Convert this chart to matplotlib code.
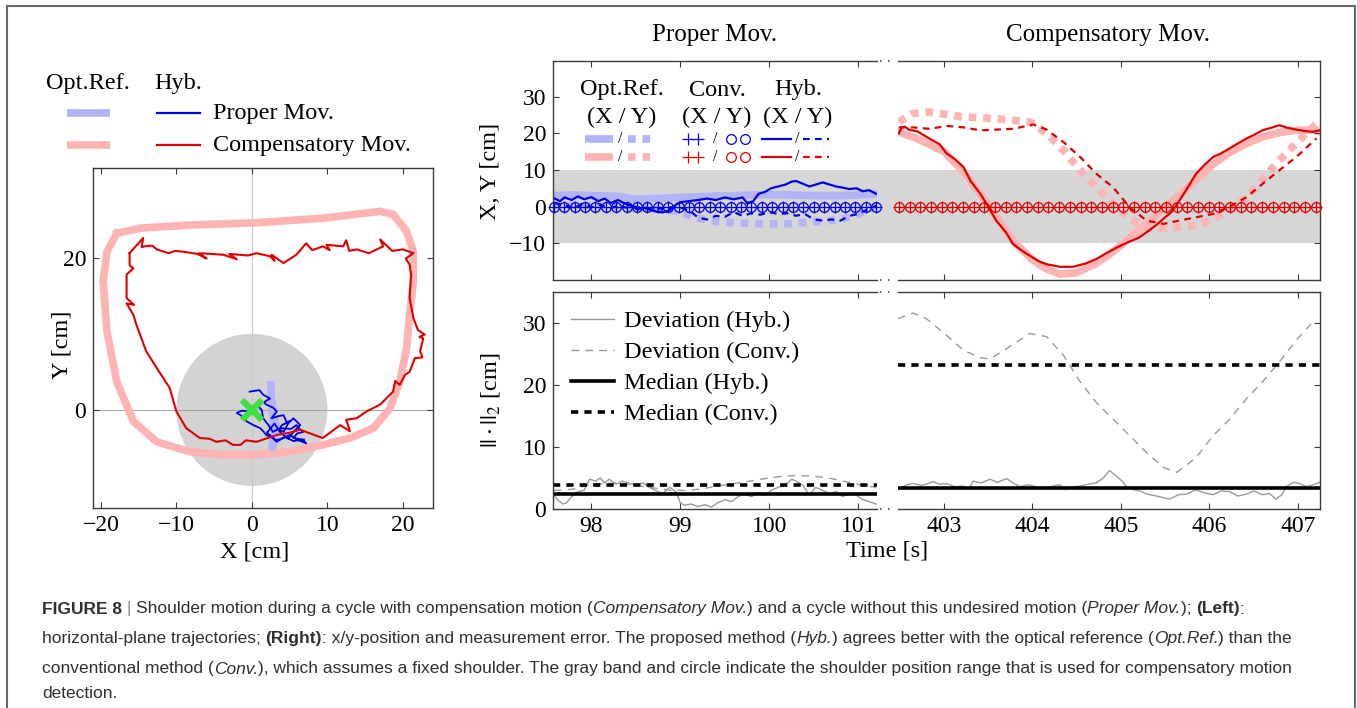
import numpy as np
import matplotlib
matplotlib.use('Agg')
import matplotlib.pyplot as plt
from matplotlib.lines import Line2D
from matplotlib.patches import Rectangle, Circle
import matplotlib.transforms as mtrans
from matplotlib import font_manager as fm

# ---------------- data ----------------
# Left: horizontal-plane trajectories [cm]
comp_ref_x = [-17.9, -14.8, -8.2, 0.6, 9.4, 17.0, 18.7, 20.5, 21.4, 21.4, 20.9, 20.5, 19.6, 18.3, 16.1,
              13.0, 9.4, 5.0, 0.6, -3.8, -8.2, -12.6, -15.7, -17.9, -19.2, -19.7, -19.2, -17.9]
comp_ref_y = [23.2, 23.9, 24.3, 24.6, 25.2, 26.1, 25.7, 23.5, 20.8, 16.9, 12.5, 8.1, 3.7, 0.2, -2.4,
              -3.7, -4.6, -5.5, -5.9, -5.9, -5.5, -4.2, -1.5, 3.7, 10.3, 16.9, 20.8, 23.2]
comp_hyb_x = [-16.2, -14.4, -14.6, -14.2, -13.2, -12.6, -11.0, -10.2, -9.1, -7.2, -6.0, -7.0, -3.8, -2.0,
              -3.0, -0.5, 0.6, 2.4, 3.0, 2.6, 4.2, 5.9, 7.2, 8.0, 9.4, 10.3, 9.9, 12.1, 12.5, 12.9,
              13.9, 15.5, 17.4, 17.0, 18.6, 20.0, 21.4, 20.4, 20.9, 21.1, 20.9, 21.4, 22.0, 22.9, 22.2,
              22.7, 22.3, 22.6, 21.6, 20.9, 20.3, 19.6, 19.0, 18.7, 17.0, 15.2, 13.9, 12.5, 13.0, 11.7,
              9.4, 8.0, 6.4, 5.0, 3.3, 0.6, -0.8, -1.5, -2.5, -3.5, -4.7, -5.6, -6.9, -8.7, -10.0,
              -10.9, -12.6, -14.0, -15.3, -15.7, -16.6, -15.6, -16.6, -16.6, -15.7, -16.2, -16.2]
comp_hyb_y = [20.6, 22.6, 21.4, 21.5, 21.6, 21.1, 20.6, 20.9, 20.8, 20.5, 19.9, 20.6, 20.4, 19.8,
              20.5, 20.3, 20.6, 20.2, 19.6, 20.4, 19.3, 20.4, 21.9, 21.0, 21.5, 21.0, 21.7, 21.5, 22.3,
              20.9, 21.1, 20.6, 21.5, 22.4, 20.9, 21.1, 20.6, 19.9, 19.1, 17.8, 14.7, 12.1, 10.5, 9.9,
              9.6, 9.4, 7.7, 6.9, 6.8, 5.0, 4.6, 3.3, 3.8, 2.4, 0.7, -0.2, -1.1, -1.3, -2.8, -2.0,
              -3.7, -3.2, -2.6, -3.0, -3.3, -4.2, -4.0, -4.6, -4.6, -4.0, -4.2, -3.8, -3.7, -2.4, -0.2,
              2.9, 5.5, 7.7, 11.2, 12.5, 14.0, 13.8, 14.7, 17.8, 18.6, 19.0, 20.6]
prop_ref_x = [2.5, 2.6, 2.8, 3.2, 3.0, 2.7, 3.0, 2.8, 2.6]
prop_ref_y = [3.3, 1.5, 0.0, -2.0, -3.5, -5.0, -3.0, -1.0, 1.0]
prop_hyb_x = [-0.3, 1.0, 1.5, 2.4, 1.6, 1.9, 2.8, 3.3, 2.6, 3.6, 4.2, 4.6, 5.0, 4.0, 3.7, 5.2, 5.9, 6.3,
              6.8, 6.0, 5.5, 6.7, 7.2, 6.2, 5.0, 4.3, 3.3, 2.6, 1.9, 1.5, 1.1, 0.2, -0.7, -1.2, -2.0,
              -1.3, -0.7, 0.0, 0.6, 1.3, 1.5, 2.2, 2.8, 3.5, 4.2, 4.8, 5.5, 6.0, 6.4, 5.6, 4.8, 3.8,
              3.0, 2.0, 3.2, 4.5, 5.5, 6.9]
prop_hyb_y = [2.4, 2.6, 2.0, 1.5, 1.0, 0.7, 0.3, -0.2, -1.1, -0.8, -0.7, -1.6, -1.5, -2.0, -2.4, -2.5,
              -2.0, -2.5, -2.9, -3.1, -3.7, -3.9, -4.4, -4.0, -3.3, -3.6, -4.2, -3.6, -3.3, -2.8, -2.4,
              -2.0, -1.5, -0.9, -0.4, -0.1, -0.2, 0.4, 0.7, 0.0, -1.1, -2.0, -2.9, -2.5, -2.9, -1.8,
              -1.1, -1.6, -2.0, -2.8, -3.8, -3.0, -1.8, -3.0, -4.0, -3.6, -4.1, -3.9]

# Right top: Proper movement, time [s] and X/Y [cm]
p_ref_t = [97.58, 97.8, 98.0, 98.3, 98.5, 98.7, 99.0, 99.3, 99.6, 99.9, 100.2, 100.5, 100.8, 101.0, 101.2]
p_ref_x = [3.0, 3.2, 3.0, 2.8, 2.0, 2.2, 2.5, 2.8, 3.0, 3.2, 3.2, 3.0, 3.0, 3.2, 3.5]
p_refy_t = [97.58, 97.9, 98.2, 98.5, 98.8, 99.0, 99.2, 99.4, 99.6, 99.8, 100.0, 100.2, 100.4, 100.6, 100.8, 101.0, 101.2]
p_ref_y = [0.5, 0.3, 0.0, -0.2, -0.5, -1.5, -3.2, -4.0, -4.4, -4.6, -4.7, -4.7, -4.3, -4.0, -3.5, -2.0, 0.3]
p_hyb_t = [97.58, 97.65, 97.7, 97.78, 97.85, 97.92, 98.0, 98.08, 98.15, 98.22, 98.3, 98.38, 98.45, 98.52,
           98.6, 98.7, 98.8, 98.88, 98.95, 99.0, 99.1, 99.2, 99.3, 99.4, 99.5, 99.6, 99.7, 99.75, 99.82,
           99.88, 99.95, 100.02, 100.1, 100.18, 100.25, 100.3, 100.38, 100.45, 100.52, 100.6, 100.68,
           100.75, 100.82, 100.9, 100.98, 101.05, 101.12, 101.2]
p_hyb_x = [2.3, 1.5, 2.5, 1.8, 2.8, 2.0, 2.6, 1.5, 2.2, 1.0, 1.8, 0.8, 0.2, -0.8, -0.3, -1.2, -1.6, -1.0,
           0.5, 1.2, 1.5, 1.8, 2.2, 1.8, 2.5, 2.0, 2.5, 1.0, 1.5, 3.5, 4.0, 5.0, 5.5, 6.0, 6.8, 7.0, 6.2,
           5.5, 6.0, 6.6, 6.0, 5.5, 5.2, 4.8, 5.0, 4.2, 4.5, 3.5]
p_hyby_t = [97.58, 97.7, 97.8, 97.9, 98.0, 98.1, 98.2, 98.3, 98.4, 98.5, 98.6, 98.7, 98.8, 98.9, 99.0,
            99.1, 99.2, 99.3, 99.4, 99.5, 99.6, 99.7, 99.8, 99.9, 100.0, 100.1, 100.2, 100.3, 100.4,
            100.5, 100.6, 100.7, 100.8, 100.9, 101.0, 101.1, 101.2]
p_hyb_y = [1.0, 0.5, -0.5, 0.8, -0.2, 0.6, -0.5, 0.2, -0.3, 0.0, -0.5, -0.3, -0.6, -0.2, -0.3,
           -1.0, -3.0, -3.5, -2.5, -2.8, -1.5, -2.5, -1.8, -2.2, -1.5, -2.0, -1.8, -2.5, -2.0,
           -3.5, -3.8, -3.5, -3.8, -2.5, -2.0, -0.8, 0.2]
p_conv_t = np.linspace(97.58, 101.2, 32)
p_conv_x = np.zeros(32)
p_conv_y = np.zeros(32)

# Right top: Compensatory movement
c_ref_t = [402.49, 402.7, 403.0, 403.2, 403.41, 403.6, 403.78, 404.0, 404.16, 404.31, 404.5, 404.72,
           404.91, 405.1, 405.29, 405.48, 405.66, 405.85, 406.04, 406.23, 406.42, 406.6, 406.79,
           406.98, 407.17, 407.25]
c_ref_x = [20.4, 18.5, 15.0, 10.0, 3.5, -3.0, -9.3, -14.5, -17.0, -18.4, -18.0, -15.5, -12.3, -8.5,
           -4.7, -0.5, 3.0, 7.5, 11.5, 14.8, 17.2, 19.0, 20.2, 20.8, 20.8, 20.5]
c_hyb_t = [402.49, 402.52, 402.56, 402.6, 402.7, 402.84, 402.95, 403.03, 403.12, 403.22, 403.3,
           403.41, 403.5, 403.59, 403.7, 403.78, 403.88, 403.97, 404.08, 404.16, 404.31, 404.46,
           404.6, 404.72, 404.85, 404.99, 405.1, 405.2, 405.29, 405.4, 405.48, 405.57, 405.66,
           405.75, 405.85, 405.95, 406.04, 406.13, 406.23, 406.32, 406.42, 406.5, 406.6, 406.7,
           406.79, 406.88, 406.98, 407.08, 407.17, 407.25]
c_hyb_x = [20.0, 21.5, 21.8, 21.0, 20.5, 18.5, 17.0, 14.5, 13.0, 10.8, 7.0, 3.5, 0.0, -3.8, -7.0,
           -10.2, -12.0, -13.4, -15.0, -15.7, -16.4, -16.4, -15.5, -14.3, -12.5, -10.7, -9.5,
           -8.5, -7.0, -5.0, -3.3, -1.5, 1.6, 5.0, 9.0, 11.5, 13.5, 14.5, 15.9, 17.2, 18.6, 19.5,
           20.8, 21.5, 22.2, 21.5, 21.0, 20.6, 20.4, 20.8]
c_refy_t = [402.49, 402.65, 402.84, 403.2, 403.6, 403.97, 404.16, 404.35, 404.54, 404.72, 404.91,
            405.1, 405.29, 405.48, 405.85, 406.04, 406.23, 406.42, 406.6, 406.79, 406.98, 407.21]
c_ref_y = [23.1, 25.4, 25.8, 24.5, 24.0, 23.1, 20.0, 15.3, 9.9, 5.3, 0.8, -3.3, -5.7, -5.9, -5.2,
           -3.5, -1.0, 2.5, 7.5, 12.6, 17.2, 22.6]
c_hyby_t = [402.49, 402.65, 402.84, 403.03, 403.22, 403.41, 403.59, 403.78, 404.01, 404.16, 404.35,
            404.54, 404.72, 404.91, 405.1, 405.29, 405.48, 405.66, 405.85, 406.04, 406.23, 406.42,
            406.6, 406.79, 406.98, 407.21]
c_hyb_y = [21.6, 21.6, 21.2, 22.0, 21.6, 20.8, 21.0, 21.2, 22.4, 21.0, 17.6, 13.5, 9.0, 5.3, -0.2,
           -3.8, -4.7, -3.8, -2.9, -2.0, 0.0, 2.6, 6.2, 9.9, 13.5, 18.6]
c_conv_t = np.linspace(402.49, 407.2, 40)
c_conv_x = np.zeros(40)
c_conv_y = np.zeros(40)

# Right bottom: deviation [cm]
p_devh_t = [97.58, 97.62, 97.68, 97.72, 97.78, 97.85, 97.92, 97.98, 98.05, 98.1, 98.15, 98.2, 98.28,
            98.35, 98.42, 98.5, 98.58, 98.65, 98.72, 98.8, 98.88, 98.95, 99.0, 99.05, 99.12, 99.2,
            99.28, 99.35, 99.42, 99.5, 99.58, 99.65, 99.72, 99.8, 99.88, 99.95, 100.02, 100.1,
            100.18, 100.25, 100.3, 100.38, 100.45, 100.52, 100.6, 100.68, 100.75, 100.82, 100.9,
            100.98, 101.05, 101.12, 101.2]
p_devh = [2.3, 1.5, 0.8, 1.0, 2.0, 2.8, 3.0, 4.8, 4.5, 5.0, 4.2, 4.8, 4.0, 4.5, 4.2, 3.8, 4.2, 3.5,
          3.0, 2.5, 3.5, 2.8, 1.0, 0.6, 0.8, 0.4, 0.7, 0.3, 1.0, 1.5, 1.2, 2.0, 2.4, 2.0, 2.6, 2.2,
          3.0, 3.5, 3.8, 4.8, 4.5, 3.8, 2.2, 3.5, 3.0, 2.5, 2.8, 2.0, 2.5, 2.2, 1.5, 1.2, 0.8]
p_devc_t = [97.58, 97.8, 98.0, 98.3, 98.6, 98.9, 99.1, 99.3, 99.5, 99.7, 99.9, 100.1, 100.3, 100.5,
            100.7, 100.9, 101.05, 101.2]
p_devc = [3.0, 3.2, 4.0, 4.2, 3.6, 3.0, 3.0, 3.4, 3.9, 4.3, 4.8, 5.2, 5.4, 5.3, 4.9, 4.3, 3.8, 3.5]
p_med_h = 2.5
p_med_c = 3.9
c_devh_t = [402.5, 402.58, 402.65, 402.75, 402.88, 402.95, 403.03, 403.12, 403.22, 403.28, 403.33,
            403.42, 403.52, 403.6, 403.71, 403.78, 403.86, 403.95, 404.09, 404.2, 404.31, 404.38,
            404.46, 404.54, 404.63, 404.72, 404.8, 404.87, 404.95, 405.02, 405.06, 405.14, 405.22,
            405.29, 405.4, 405.55, 405.65, 405.74, 405.85, 405.95, 406.04, 406.13, 406.23, 406.32,
            406.42, 406.5, 406.6, 406.68, 406.75, 406.82, 406.87, 406.95, 407.02, 407.1, 407.17, 407.25]
c_devh = [3.4, 3.9, 4.1, 3.8, 4.4, 4.0, 4.1, 3.6, 3.7, 3.2, 4.5, 4.2, 4.8, 4.3, 4.9, 4.2, 3.6, 3.9,
          3.4, 3.6, 3.9, 3.1, 3.6, 3.7, 4.0, 4.2, 5.0, 6.2, 5.3, 4.4, 3.6, 3.1, 2.9, 2.4, 2.1, 1.6,
          2.3, 2.4, 3.1, 2.6, 2.3, 2.9, 2.8, 2.1, 2.4, 2.9, 2.3, 2.5, 1.6, 2.3, 3.6, 4.3, 4.1, 3.6,
          3.9, 4.3]
c_devc_t = [402.48, 402.65, 402.8, 403.03, 403.22, 403.41, 403.52, 403.71, 403.97, 404.16, 404.35,
            404.54, 404.72, 404.91, 405.1, 405.29, 405.48, 405.63, 405.85, 406.04, 406.23, 406.42,
            406.6, 406.79, 406.98, 407.19]
c_devc = [30.7, 31.6, 30.7, 28.0, 25.6, 24.4, 24.2, 25.9, 28.3, 27.8, 24.8, 20.5, 17.2, 14.5, 11.8,
          9.1, 6.7, 5.9, 8.3, 11.8, 14.5, 17.8, 20.5, 23.7, 27.2, 30.5]
c_med_h = 3.35
c_med_c = 23.2

# ---------------- style ----------------
W, H = 1357, 708
plt.rcParams['font.family'] = ['Liberation Serif', 'DejaVu Serif']
plt.rcParams['mathtext.fontset'] = 'stix'
plt.rcParams['axes.unicode_minus'] = True

BLUE = '#0000e6'
RED = '#e00000'
LBLUE = '#b3b3f8'
PINK = '#ffb3b3'
BAND = '#d6d6d6'
SPINE = '#3a3a3a'
TICKFS = 17
TXTFS = 17.5

fig = plt.figure(figsize=(W / 100, H / 100), dpi=100)


def fx(p):
    return p / W


def fy(p):
    return 1 - p / H


def rect(x0, y0, x1, y1):
    return [fx(x0), fy(y1), fx(x1) - fx(x0), fy(y0) - fy(y1)]


def style(ax):
    for s in ax.spines.values():
        s.set_color(SPINE)
        s.set_linewidth(1.0)
    ax.tick_params(direction='in', length=4.5, width=0.8, color=SPINE,
                   labelsize=TICKFS, pad=5)


# ---------------- left panel ----------------
axL = fig.add_axes(rect(93, 168, 433, 508))
style(axL)
axL.set_xlim(-21.05, 24.0)
axL.set_ylim(-12.9, 31.8)
axL.add_patch(Circle((0, 0), 10, facecolor='#d3d3d3', edgecolor='none', zorder=0))
axL.axhline(0, color='#a8a8a8', lw=0.8, zorder=0.5)
axL.axvline(0, color='#c8c8c8', lw=0.8, zorder=0.5)
axL.plot(comp_ref_x, comp_ref_y, color=PINK, lw=5.5, solid_joinstyle='round', zorder=1)
axL.plot(prop_ref_x, prop_ref_y, color=LBLUE, lw=5.5, zorder=1.5)
axL.plot(prop_hyb_x, prop_hyb_y, color=BLUE, lw=1.3, zorder=2)
axL.plot(comp_hyb_x, comp_hyb_y, color=RED, lw=1.5, zorder=3)
axL.plot([0], [0], marker='x', ms=14, mew=4.5, color='#3fe03f', zorder=4, ls='none')
axL.set_xticks([-20, -10, 0, 10, 20])
axL.set_yticks([0, 20])
axL.tick_params(top=True, right=True)
fig.text(fx(255), fy(552), 'X [cm]', ha='center', va='center', fontsize=TXTFS)
fig.text(fx(62), fy(345), 'Y [cm]', ha='center', va='center', rotation=90, fontsize=TXTFS)

# left legend
fig.text(fx(88), fy(83), 'Opt.Ref.', ha='center', va='center', fontsize=TXTFS)
fig.text(fx(178), fy(83), 'Hyb.', ha='center', va='center', fontsize=TXTFS)
fig.add_artist(Line2D([fx(67), fx(110)], [fy(113)] * 2, color=LBLUE, lw=5.5, solid_capstyle='butt'))
fig.add_artist(Line2D([fx(67), fx(110)], [fy(145)] * 2, color=PINK, lw=5.5, solid_capstyle='butt'))
fig.add_artist(Line2D([fx(157), fx(200)], [fy(113)] * 2, color=BLUE, lw=1.6))
fig.add_artist(Line2D([fx(157), fx(200)], [fy(145)] * 2, color=RED, lw=1.6))
fig.text(fx(213), fy(113), 'Proper Mov.', ha='left', va='center', fontsize=TXTFS)
fig.text(fx(213), fy(145), 'Compensatory Mov.', ha='left', va='center', fontsize=TXTFS)

# ---------------- right panels ----------------
axTL = fig.add_axes(rect(553, 61, 877, 280))
axTR = fig.add_axes(rect(898, 61, 1320, 280))
axBL = fig.add_axes(rect(553, 292, 877, 509))
axBR = fig.add_axes(rect(898, 292, 1320, 509))
for ax in (axTL, axTR, axBL, axBR):
    style(ax)
for ax in (axTL, axBL):
    ax.set_xlim(97.57, 101.21)
    ax.spines['right'].set_visible(False)
    ax.tick_params(top=True, right=False)
    ax.set_xticks([98, 99, 100, 101])
for ax in (axTR, axBR):
    ax.set_xlim(402.48, 407.25)
    ax.spines['left'].set_visible(False)
    ax.tick_params(top=True, left=False, right=True, labelleft=False)
    ax.set_xticks([403, 404, 405, 406, 407])
for ax in (axTL, axTR):
    ax.set_ylim(-20, 39.7)
    ax.set_yticks([-10, 0, 10, 20, 30])
    ax.axhspan(-10, 10, color=BAND, lw=0, zorder=0)
    ax.tick_params(labelbottom=False)
for ax in (axBL, axBR):
    ax.set_ylim(0, 35)
    ax.set_yticks([0, 10, 20, 30])

# band in the gap
btr = mtrans.blended_transform_factory(fig.transFigure, axTL.transData)
fig.add_artist(Rectangle((fx(877), -10), fx(898) - fx(877), 20, transform=btr,
                         facecolor=BAND, edgecolor='none', zorder=0))
# break markers
for yy in (61, 280, 292, 509):
    fig.add_artist(Line2D([fx(880), fx(896)], [fy(yy)] * 2, color=SPINE, lw=1.2,
                          ls=(0, (0.8, 4.0))))

DASH_REF = (0, (1.0, 0.9))
DASH_HYB = (0, (3.0, 2.4))
# top-left (proper)
axTL.plot(p_ref_t, p_ref_x, color=LBLUE, lw=5.5, zorder=1)
axTL.plot(p_refy_t, p_ref_y, color=LBLUE, lw=5.5, ls=DASH_REF, dash_capstyle='butt', zorder=1)
axTL.plot(p_hyb_t, p_hyb_x, color=BLUE, lw=1.6, zorder=2)
axTL.plot(p_hyby_t, p_hyb_y, color=BLUE, lw=1.6, ls=DASH_HYB, zorder=2)
axTL.plot(p_conv_t, p_conv_x, ls='none', marker='+', ms=8, mew=0.9, color=BLUE, zorder=3, clip_on=False)
axTL.plot(p_conv_t, p_conv_y, ls='none', marker='o', ms=7, mew=0.9, mfc='none', color=BLUE, zorder=3, clip_on=False)
# top-right (compensatory)
axTR.plot(c_ref_t, c_ref_x, color=PINK, lw=5.5, zorder=1)
axTR.plot(c_refy_t, c_ref_y, color=PINK, lw=5.5, ls=DASH_REF, dash_capstyle='butt', zorder=1)
axTR.plot(c_hyb_t, c_hyb_x, color=RED, lw=1.6, zorder=2)
axTR.plot(c_hyby_t, c_hyb_y, color=RED, lw=1.6, ls=DASH_HYB, zorder=2)
axTR.plot(c_conv_t, c_conv_x, ls='none', marker='+', ms=8, mew=0.9, color=RED, zorder=3, clip_on=False)
axTR.plot(c_conv_t, c_conv_y, ls='none', marker='o', ms=7, mew=0.9, mfc='none', color=RED, zorder=3, clip_on=False)

# bottom
GRAY = '#9a9a9a'
DEV_DASH = (0, (5.5, 4.5))
MED_DASH = (0, (2.0, 1.7))
axBL.plot(p_devh_t, p_devh, color=GRAY, lw=1.0)
axBL.plot(p_devc_t, p_devc, color=GRAY, lw=1.0, ls=DEV_DASH)
axBL.axhline(p_med_h, color='k', lw=2.6)
axBL.axhline(p_med_c, color='k', lw=2.6, ls=MED_DASH)
axBR.plot(c_devh_t, c_devh, color=GRAY, lw=1.0)
axBR.plot(c_devc_t, c_devc, color=GRAY, lw=1.0, ls=DEV_DASH)
axBR.axhline(c_med_h, color='k', lw=2.6)
axBR.axhline(c_med_c, color='k', lw=2.6, ls=MED_DASH)

handles = [Line2D([], [], color=GRAY, lw=1.0),
           Line2D([], [], color=GRAY, lw=1.0, ls=DEV_DASH),
           Line2D([], [], color='k', lw=2.6),
           Line2D([], [], color='k', lw=2.6, ls=MED_DASH)]
labels = ['Deviation (Hyb.)', 'Deviation (Conv.)', 'Median (Hyb.)', 'Median (Conv.)']
axBL.legend(handles, labels, loc='upper left', frameon=False, fontsize=TXTFS,
            handlelength=1.75, handletextpad=0.42, labelspacing=0.37,
            borderaxespad=0.55, borderpad=0.2)

# top legend (drawn in figure pixels)
for cx, name in ((622, 'Opt.Ref.'), (717, 'Conv.'), (798, 'Hyb.')):
    fig.text(fx(cx), fy(90), name, ha='center', va='center', fontsize=TXTFS)
    fig.text(fx(cx), fy(117), '(X / Y)', ha='center', va='center', fontsize=TXTFS)
for yy, lc, dc in ((139, LBLUE, BLUE), (157, PINK, RED)):
    fig.add_artist(Line2D([fx(585), fx(613)], [fy(yy)] * 2, color=lc, lw=5.5, solid_capstyle='butt'))
    fig.add_artist(Line2D([fx(628), fx(655)], [fy(yy)] * 2, color=lc, lw=5.5, ls=DASH_REF, dash_capstyle='butt'))
    fig.add_artist(Line2D([fx(688), fx(698)], [fy(yy)] * 2, ls='none', marker='+', ms=8, mew=0.9, color=dc))
    fig.add_artist(Line2D([fx(731), fx(745)], [fy(yy)] * 2, ls='none', marker='o', ms=7, mew=0.9, mfc='none', color=dc))
    fig.add_artist(Line2D([fx(762), fx(791)], [fy(yy)] * 2, color=dc, lw=1.6))
    fig.add_artist(Line2D([fx(803), fx(829)], [fy(yy)] * 2, color=dc, lw=1.6, ls=DASH_HYB))
    for sx in (620, 715, 797):
        fig.text(fx(sx), fy(yy), '/', ha='center', va='center', fontsize=11.5)

# labels and titles
fig.text(fx(715), fy(35), 'Proper Mov.', ha='center', va='center', fontsize=TXTFS + 0.5)
fig.text(fx(1108), fy(35), 'Compensatory Mov.', ha='center', va='center', fontsize=TXTFS + 0.5)
fig.text(fx(491), fy(171), 'X, Y [cm]', ha='center', va='center', rotation=90, fontsize=TXTFS)
fig.text(fx(490), fy(400), r'$||\cdot||_2$ [cm]', ha='center', va='center', rotation=90, fontsize=TXTFS)
fig.text(fx(887), fy(551), 'Time [s]', ha='center', va='center', fontsize=TXTFS)

# outer border
fig.add_artist(Rectangle((fx(7), -0.05), fx(1355) - fx(7), fy(6) + 0.05, transform=fig.transFigure,
                         facecolor='none', edgecolor='#6a6a6a', lw=1.5, zorder=10))

# ---------------- caption ----------------
names = {f.name for f in fm.fontManager.ttflist}
cap_font = 'Liberation Sans Narrow' if 'Liberation Sans Narrow' in names else 'Liberation Sans'
CAP_COL = '#303030'
cap_lines = [
    [('FIGURE 8 ', 'bold'), ('| ', 'bar'), ('Shoulder motion during a cycle with compensation motion (', 'n'),
     ('Compensatory Mov.', 'it'), (') and a cycle without this undesired motion (', 'n'),
     ('Proper Mov.', 'it'), ('); ', 'n'), ('(Left)', 'bold'), (':', 'n')],
    [('horizontal-plane trajectories; ', 'n'), ('(Right)', 'bold'),
     (': x/y-position and measurement error. The proposed method (', 'n'), ('Hyb.', 'it'),
     (') agrees better with the optical reference (', 'n'), ('Opt.Ref.', 'it'), (') than the', 'n')],
    [('conventional method (', 'n'), ('Conv.', 'it'),
     ('), which assumes a fixed shoulder. The gray band and circle indicate the shoulder position range that is used for compensatory motion', 'n')],
    [('detection.', 'n')],
]
cap_targets = [1256, 1258, 1250, 1e9]
cap_y = [609, 639, 669, 693]
renderer = fig.canvas.get_renderer()


def run_kw(kind, size):
    kw = dict(fontsize=size, family=cap_font, color=CAP_COL)
    if kind == 'bold':
        kw['fontweight'] = 'bold'
    elif kind == 'it':
        kw['fontstyle'] = 'italic'
    elif kind == 'bar':
        kw['color'] = '#888888'
    return kw


def width_px(s, kw):
    t1 = fig.text(0, 0, 'x' + s + 'x', **kw)
    t2 = fig.text(0, 0, 'xx', **kw)
    w = t1.get_window_extent(renderer).width - t2.get_window_extent(renderer).width
    t1.remove()
    t2.remove()
    return w


base = 12.0
cap_size = min(base * tgt / sum(width_px(s, run_kw(k, base)) for s, k in line)
               for line, tgt in zip(cap_lines, cap_targets))
for line, yy in zip(cap_lines, cap_y):
    x = 42.0
    for s, k in line:
        kw = run_kw(k, cap_size)
        fig.text(fx(x), fy(yy), s, ha='left', va='center', **kw)
        x += width_px(s, kw)

fig.savefig('out.png', dpi=100)
